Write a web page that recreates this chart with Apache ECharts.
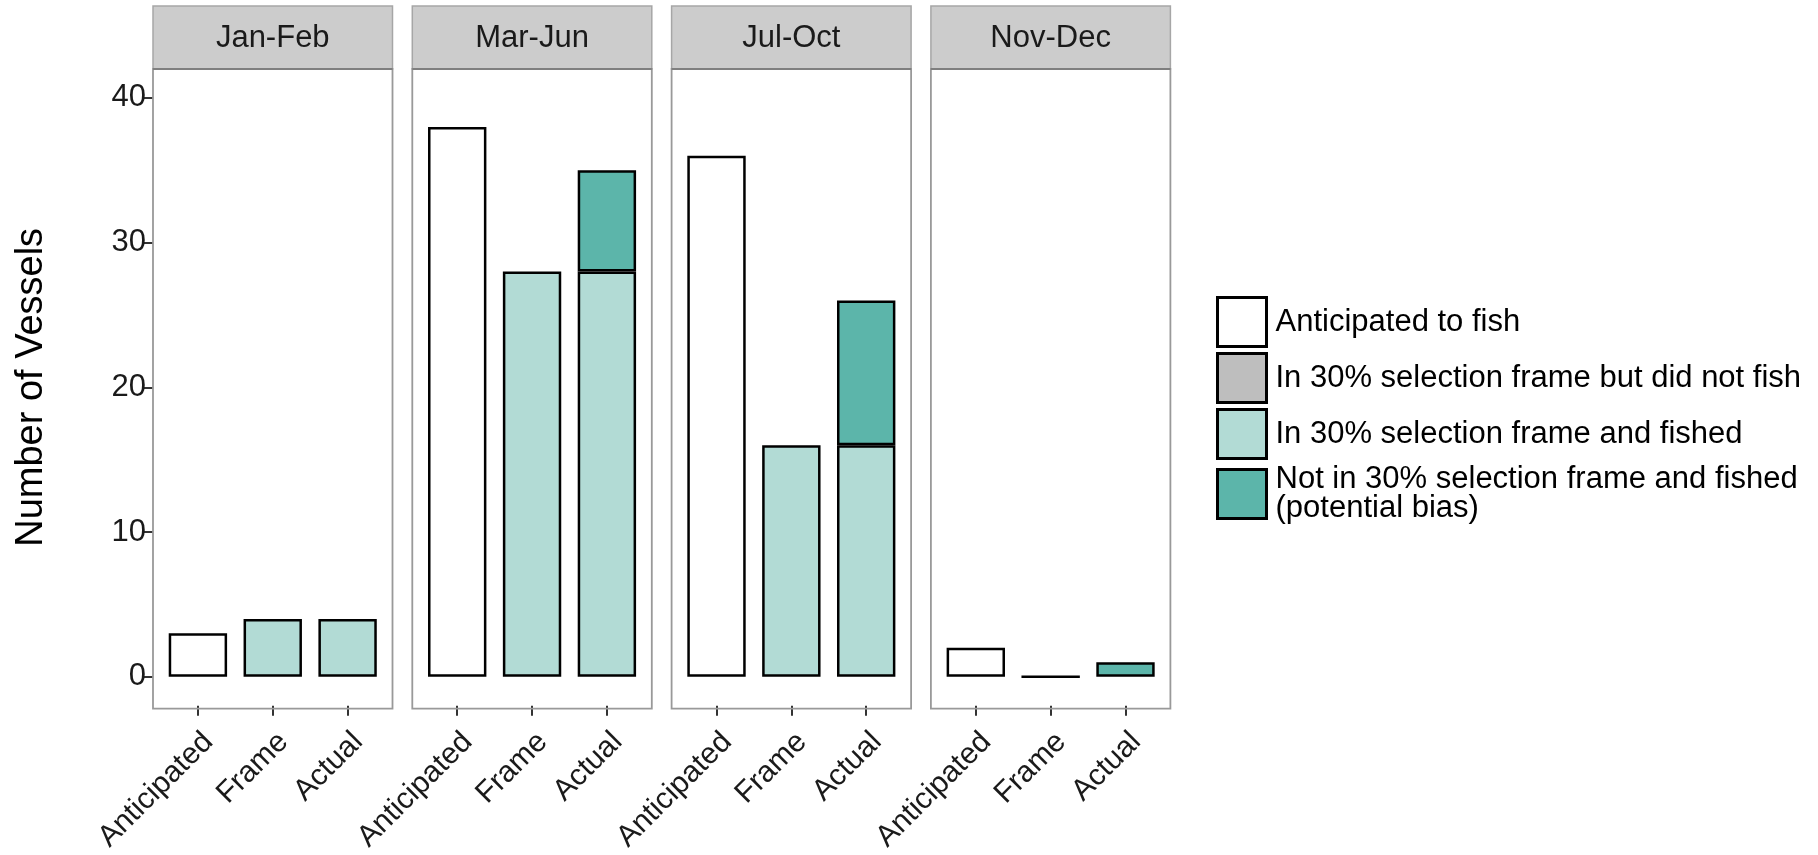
<!DOCTYPE html>
<html>
<head>
<meta charset="utf-8">
<script src="https://cdn.jsdelivr.net/npm/echarts@6/dist/echarts.min.js"></script>
<style>
html,body{margin:0;padding:0;background:#fff;}
#chart{width:1818px;height:855px;}
</style>
</head>
<body>
<div id="chart"></div>
<script>
// ---- data ----
const periods = ['Jan-Feb', 'Mar-Jun', 'Jul-Oct', 'Nov-Dec'];
const categories = ['Anticipated', 'Frame', 'Actual'];
const anticipated = [3, 38, 36, 2];
const frameFished = [4, 28, 16, 0];
const actualInFrame = [4, 28, 16, 0];
const actualNotInFrame = [0, 7, 10, 1];
const yTicks = [0, 10, 20, 30, 40];
const seriesNames = [
  'Anticipated to fish',
  'In 30% selection frame but did not fish',
  'In 30% selection frame and fished',
  'Not in 30% selection frame and fished\n(potential bias)'
];
const seriesColors = ['#ffffff', '#bebebe', '#b2dbd5', '#5cb5aa'];

// ---- layout ----
const FONT = '"Liberation Sans", Arial, sans-serif';
const left0 = 153, step = 259.3, W = 239.5;
const panelTop = 69, panelH = 639.7;
const stripTop = 6, stripH = 63;
const inset = W / 32;

const chart = echarts.init(document.getElementById('chart'));

const grids = [], xAxes = [], yAxes = [], series = [], graphics = [];
periods.forEach((p, i) => {
  const pl = left0 + i * step;
  grids.push({ left: pl + inset, top: panelTop, width: W - 2 * inset, height: panelH, containLabel: false });
  xAxes.push({
    type: 'category', gridIndex: i, data: categories,
    axisLine: { show: false, onZero: false },
    axisTick: { show: true, alignWithLabel: true, length: 10, lineStyle: { color: '#333', width: 2 } },
    axisLabel: { rotate: 45, fontSize: 30, color: '#1a1a1a', fontFamily: FONT, margin: 21, verticalAlign: 'top', interval: 0 },
    splitLine: { show: false }
  });
  yAxes.push({
    type: 'value', gridIndex: i, min: -2, max: 42,
    offset: inset,
    name: i === 0 ? 'Number of Vessels' : '',
    nameLocation: 'middle', nameRotate: 90, nameGap: 102,
    nameTextStyle: { fontSize: 38, color: '#000', fontFamily: FONT },
    axisLine: { show: false },
    axisTick: { show: i === 0, length: 10, lineStyle: { color: '#333', width: 2 }, customValues: yTicks },
    axisLabel: { show: i === 0, fontSize: 31, color: '#1a1a1a', fontFamily: FONT, margin: 7, customValues: yTicks },
    splitLine: { show: false }
  });
  const stackId = 's' + i;
  const common = { type: 'bar', xAxisIndex: i, yAxisIndex: i, stack: stackId, barWidth: '78%', silent: true };
  const seriesData = [
    [anticipated[i], '-', '-'],
    ['-', '-', '-'],
    ['-', frameFished[i], actualInFrame[i] === 0 ? '-' : actualInFrame[i]],
    ['-', '-', actualNotInFrame[i] === 0 ? '-' : actualNotInFrame[i]]
  ];
  seriesNames.forEach((name, k) => {
    series.push(Object.assign({}, common, {
      name: name,
      data: seriesData[k],
      itemStyle: { color: seriesColors[k], borderColor: '#000', borderWidth: 2.5 }
    }));
  });
  // strip
  graphics.push({
    type: 'rect', shape: { x: pl, y: stripTop, width: W, height: stripH },
    style: { fill: '#cccccc', stroke: '#a6a6a6', lineWidth: 1.5 }, z: 1
  });
  graphics.push({
    type: 'line', shape: { x1: pl, y1: stripTop + stripH, x2: pl + W, y2: stripTop + stripH },
    style: { stroke: '#7f7f7f', lineWidth: 2 }, z: 2
  });
  graphics.push({
    type: 'text', x: pl + W / 2, y: stripTop + stripH / 2 + 1,
    style: { text: p, fill: '#1a1a1a', font: '31px ' + FONT, align: 'center', verticalAlign: 'middle' }, z: 3
  });
  // panel frame
  graphics.push({
    type: 'rect', shape: { x: pl, y: panelTop, width: W, height: panelH },
    style: { fill: null, stroke: '#999999', lineWidth: 1.8 }, z: 1
  });
});

chart.setOption({
  animation: false,
  backgroundColor: '#ffffff',
  grid: grids,
  xAxis: xAxes,
  yAxis: yAxes,
  series: series,
  graphic: graphics,
  legend: {
    data: seriesNames,
    orient: 'vertical',
    left: 1211, top: 291,
    itemWidth: 49, itemHeight: 49, itemGap: 4,
    icon: 'rect',
    selectedMode: false,
    itemStyle: { borderColor: '#000', borderWidth: 3 },
    textStyle: { fontSize: 31, color: '#000', fontFamily: FONT, lineHeight: 29, padding: [0, 0, 0, 4] }
  }
});
</script>
</body>
</html>
